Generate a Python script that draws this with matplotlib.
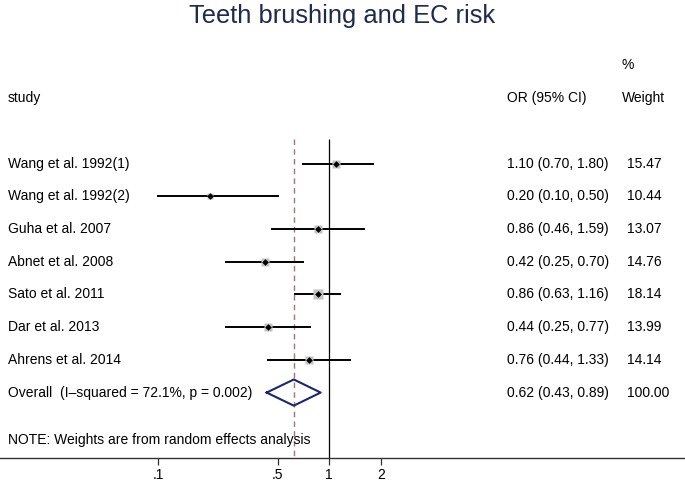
import numpy as np
import matplotlib
matplotlib.use("Agg")
import matplotlib.pyplot as plt
from matplotlib.transforms import blended_transform_factory

plt.rcParams['font.family'] = ['Liberation Sans', 'DejaVu Sans']

# ---- data ----
studies = ["Wang et al. 1992(1)", "Wang et al. 1992(2)", "Guha et al. 2007",
           "Abnet et al. 2008", "Sato et al. 2011", "Dar et al. 2013",
           "Ahrens et al. 2014"]
or_est = [1.10, 0.20, 0.86, 0.42, 0.86, 0.44, 0.76]
ci_low = [0.70, 0.10, 0.46, 0.25, 0.63, 0.25, 0.44]
ci_high = [1.80, 0.50, 1.59, 0.70, 1.16, 0.77, 1.33]
weights = [15.47, 10.44, 13.07, 14.76, 18.14, 13.99, 14.14]

overall_label = "Overall  (I\u2013squared = 72.1%, p = 0.002)"
overall_est = 0.62
overall_low = 0.43
overall_high = 0.89
overall_weight = 100.00

note = "NOTE: Weights are from random effects analysis"
xticks = [0.1, 0.5, 1, 2]
xtick_labels = [".1", ".5", "1", "2"]

# ---- figure ----
fig = plt.figure(figsize=(6.85, 4.82), dpi=100)
ax = fig.add_axes([0, 24 / 482, 1, 458 / 482])
ax.set_xscale("log")
# .1 sits at 158 px, 1 at 329 px, 171 px per decade
ax.set_xlim(10 ** (-1 - 158.3 / 171), 10 ** ((685 - 329.3) / 171))
ax.set_ylim(10.0, -4.0)

rows = np.arange(1, len(studies) + 1)
ov_row = len(studies) + 1

# reference lines
ax.vlines(1, 0.25, 10.0, color="black", lw=0.9, zorder=1)
ax.vlines(overall_est, 0.25, 10.0, color="#a0747c", lw=1.0,
          linestyles=(0, (4, 3)), zorder=1)

# study CIs and weighted squares
for r, est, lo, hi, w in zip(rows, or_est, ci_low, ci_high, weights):
    ax.plot([lo, hi], [r, r], color="black", lw=1.4, zorder=2)
    ax.plot(est, r, marker="s", ms=1.55 * np.sqrt(w), color="#c2c2c2",
            mec="none", zorder=3)
    ax.plot(est, r, marker="D", ms=3.4, color="black", mec="none", zorder=4)

# overall diamond
h = 0.4
ax.plot([overall_low, overall_est, overall_high, overall_est, overall_low],
        [ov_row, ov_row - h, ov_row, ov_row + h, ov_row],
        color="#1c2670", lw=1.5, zorder=3)

# text columns
tr = blended_transform_factory(ax.transAxes, ax.transData)
fs = 10
xs, xor, xw = 8 / 685, 507 / 685, 622 / 685
ax.text(xs, -1, "study", transform=tr, fontsize=fs, va="center")
ax.text(xor, -1, "OR (95% CI)", transform=tr, fontsize=fs, va="center")
ax.text(xw, -1, "Weight", transform=tr, fontsize=fs, va="center")
ax.text(xw, -2, "%", transform=tr, fontsize=fs, va="center")

for r, s, est, lo, hi, w in zip(rows, studies, or_est, ci_low, ci_high, weights):
    ax.text(xs, r, s, transform=tr, fontsize=fs, va="center")
    ax.text(xor, r, f"{est:.2f} ({lo:.2f}, {hi:.2f})", transform=tr,
            fontsize=fs, va="center")
    ax.text(xw + 5 / 685, r, f"{w:.2f}", transform=tr, fontsize=fs, va="center")

ax.text(xs, ov_row, overall_label, transform=tr, fontsize=fs, va="center")
ax.text(xor, ov_row, f"{overall_est:.2f} ({overall_low:.2f}, {overall_high:.2f})",
        transform=tr, fontsize=fs, va="center")
ax.text(xw + 5 / 685, ov_row, f"{overall_weight:.2f}", transform=tr,
        fontsize=fs, va="center")
ax.text(xs, 9.46, note, transform=tr, fontsize=fs, va="center")

# axis styling
for sp in ["left", "right", "top"]:
    ax.spines[sp].set_visible(False)
ax.spines["bottom"].set_color("#333333")
ax.spines["bottom"].set_linewidth(1.0)
ax.set_yticks([])
ax.set_xticks(xticks)
ax.set_xticklabels(xtick_labels, fontsize=fs)
ax.minorticks_off()
ax.tick_params(axis="x", length=5, width=0.9, color="#333333", pad=2)

fig.text(0.5, 1 - 16 / 482, "Teeth brushing and EC risk", ha="center",
         va="center", fontsize=18.4, color="#1e2a4e")

fig.savefig("out.png", dpi=100)
